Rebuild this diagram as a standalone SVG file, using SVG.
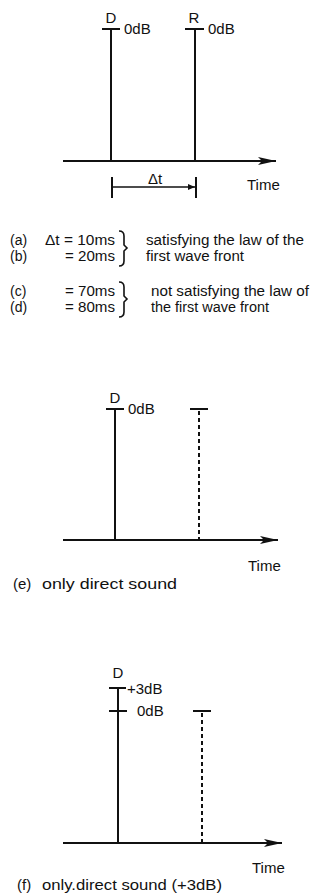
<svg xmlns="http://www.w3.org/2000/svg" width="322" height="896" viewBox="0 0 322 896">
<style>
  text { font-family: "Liberation Sans", Arial, sans-serif; font-size: 15px; fill: #111; }
  .lg { font-size: 14px; }
  .ln { stroke: #111; stroke-width: 2; fill: none; }
  .dash { stroke: #111; stroke-width: 2; fill: none; stroke-dasharray: 4 3; }
  .br { stroke: #111; stroke-width: 1.6; fill: none; }
</style>
<defs>
  <marker id="ah" markerWidth="20" markerHeight="10" refX="19" refY="5" orient="auto" markerUnits="userSpaceOnUse">
    <path d="M1,1 L19,5 L1,9 L5,5 Z" fill="#111"/>
  </marker>
  <marker id="sa" markerWidth="8" markerHeight="6" refX="7" refY="3" orient="auto" markerUnits="userSpaceOnUse">
    <path d="M0,0 L7,3 L0,6 Z" fill="#111"/>
  </marker>
</defs>
<rect width="322" height="896" fill="#fff"/>

<g id="connectors">
  <line class="ln" x1="63" y1="161" x2="276" y2="161" marker-end="url(#ah)"/>
  <line class="ln" x1="111" y1="29" x2="111" y2="161"/>
  <line class="ln" x1="195" y1="29" x2="195" y2="161"/>
  <line class="ln" x1="63" y1="540" x2="278" y2="540" marker-end="url(#ah)"/>
  <line class="ln" x1="115" y1="409" x2="115" y2="540"/>
  <line class="dash" x1="199" y1="411" x2="199" y2="540"/>
  <line class="ln" x1="63" y1="843" x2="282" y2="843" marker-end="url(#ah)"/>
  <line class="ln" x1="118" y1="688" x2="118" y2="843"/>
  <line class="dash" x1="202" y1="713" x2="202" y2="843"/>
</g>

<!-- Section 1 -->
<g id="s1-D">
  <text x="111" y="23" text-anchor="middle">D</text>
  <line class="ln" x1="102" y1="29" x2="120" y2="29"/>
  <text x="124" y="34">0dB</text>
</g>
<g id="s1-R">
  <text x="194" y="23" text-anchor="middle">R</text>
  <line class="ln" x1="185" y1="29" x2="204" y2="29"/>
  <text x="208" y="34">0dB</text>
</g>
<g id="s1-dt">
  <line class="ln" x1="112" y1="177" x2="112" y2="198"/>
  <line class="ln" x1="196" y1="177" x2="196" y2="198"/>
  <line class="br" x1="112" y1="187" x2="195" y2="187" marker-end="url(#sa)"/>
  <text x="155" y="184" text-anchor="middle">Δt</text>
</g>
<text id="s1-time" x="247" y="190">Time</text>

<g id="s1-legend">
  <text class="lg" x="10" y="245">(a)</text>
  <text class="lg" x="115" y="245" text-anchor="end" textLength="70" lengthAdjust="spacingAndGlyphs">Δt = 10ms</text>
  <text class="lg" x="10" y="261">(b)</text>
  <text class="lg" x="115" y="261" text-anchor="end" textLength="50" lengthAdjust="spacingAndGlyphs">= 20ms</text>
  <path class="br" d="M119,231 Q124,231 124,236 L124,245 L127,248 L124,251 L124,261 Q124,266 119,266"/>
  <text class="lg" x="146" y="245" textLength="158" lengthAdjust="spacingAndGlyphs">satisfying the law of the</text>
  <text class="lg" x="146" y="261" textLength="98" lengthAdjust="spacingAndGlyphs">first wave front</text>

  <text class="lg" x="10" y="296">(c)</text>
  <text class="lg" x="115" y="296" text-anchor="end" textLength="50" lengthAdjust="spacingAndGlyphs">= 70ms</text>
  <text class="lg" x="10" y="312">(d)</text>
  <text class="lg" x="115" y="312" text-anchor="end" textLength="50" lengthAdjust="spacingAndGlyphs">= 80ms</text>
  <path class="br" d="M119,282 Q124,282 124,287 L124,296 L127,299 L124,302 L124,312 Q124,317 119,317"/>
  <text class="lg" x="151" y="296" textLength="158" lengthAdjust="spacingAndGlyphs">not satisfying the law of</text>
  <text class="lg" x="151" y="312" textLength="118" lengthAdjust="spacingAndGlyphs">the first wave front</text>
</g>

<!-- Section 2 -->
<g id="s2-D">
  <text x="115" y="403" text-anchor="middle">D</text>
  <line class="ln" x1="106" y1="409" x2="124" y2="409"/>
  <text x="128" y="414">0dB</text>
</g>
<g id="s2-R">
  <line class="ln" x1="190" y1="409" x2="208" y2="409"/>
</g>
<text id="s2-time" x="248" y="571">Time</text>
<text id="s2-caption" y="589"><tspan x="13">(e)</tspan><tspan x="42" textLength="135" lengthAdjust="spacingAndGlyphs">only direct sound</tspan></text>

<!-- Section 3 -->
<g id="s3-D">
  <text x="118" y="678" text-anchor="middle">D</text>
  <line class="ln" x1="109" y1="688" x2="126" y2="688"/>
  <text x="127" y="694">+3dB</text>
  <line class="ln" x1="109" y1="711" x2="127" y2="711"/>
  <text x="137" y="716">0dB</text>
</g>
<g id="s3-R">
  <line class="ln" x1="193" y1="711" x2="211" y2="711"/>
</g>
<text id="s3-time" x="252" y="873">Time</text>
<text id="s3-caption" y="890"><tspan x="17">(f)</tspan><tspan x="42" textLength="180" lengthAdjust="spacingAndGlyphs">only.direct sound (+3dB)</tspan></text>
</svg>
